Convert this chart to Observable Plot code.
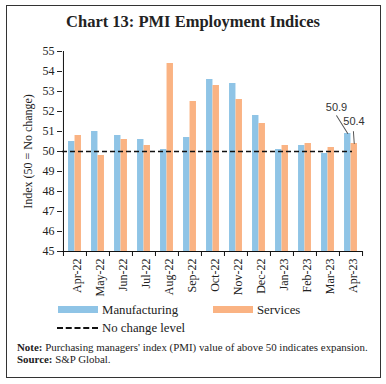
<!DOCTYPE html>
<html><head><meta charset="utf-8">
<script src="https://cdn.jsdelivr.net/npm/d3@7"></script>
<script src="https://cdn.jsdelivr.net/npm/@observablehq/plot@0.6"></script>
<style>
body{margin:0;background:#fff;font-family:"Liberation Serif",serif;color:#222}
#wrap{position:relative;width:386px;height:384px;overflow:hidden;background:#fff}
#frame{position:absolute;left:6px;top:5px;width:375px;height:373px;border:1px solid #333;box-sizing:border-box}
#title{position:absolute;left:0;width:386px;top:12px;text-align:center;font-weight:bold;font-size:16.5px;line-height:20px}
#chart{position:absolute;left:0;top:38px}
.leg{position:absolute;font-size:12.8px;line-height:14px;white-space:nowrap}
.sw{position:absolute;height:7px;width:40px}
.dash{position:absolute;width:41px;height:0;border-top:2px dashed #111}
.note{position:absolute;left:17px;font-size:10.9px;line-height:12px;white-space:nowrap}
</style></head><body>
<div id="wrap">
<div id="frame"></div>
<div id="title"></div>
<div id="chart"></div>
<div id="legend"></div>
<div class="note" id="note" style="top:341px"></div>
<div class="note" id="source" style="top:353px"></div>
</div>
<script>
const titleText = "Chart 13: PMI Employment Indices";
const months = ["Apr-22","May-22","Jun-22","Jul-22","Aug-22","Sep-22","Oct-22","Nov-22","Dec-22","Jan-23","Feb-23","Mar-23","Apr-23"];
const manufacturing = [50.5,51.0,50.8,50.6,50.1,50.7,53.6,53.4,51.8,50.1,50.3,49.9,50.9];
const services = [50.8,49.8,50.6,50.3,54.4,52.5,53.3,52.6,51.4,50.3,50.4,50.2,50.4];
const yTicks = [45,46,47,48,49,50,51,52,53,54,55];
const seriesNames = ["Manufacturing","Services"];
const refLevel = 50;
const refName = "No change level";
const yLabel = "Index (50 = No change)";
const noteText = "Purchasing managers' index (PMI) value of above 50 indicates expansion.";
const sourceText = "S&P Global.";

const colors = ["#8fc4e6","#fab383"];

document.getElementById("title").textContent = titleText;
document.getElementById("note").innerHTML = "<b>Note:</b> " + noteText.replace(/&/g,"&amp;");
document.getElementById("source").innerHTML = "<b>Source:</b> " + sourceText.replace(/&/g,"&amp;");

const dataM = months.map((m,i)=>({month:m, value:manufacturing[i]}));
const dataS = months.map((m,i)=>({month:m, value:services[i]}));
const lastM = [dataM[dataM.length-1]];
const lastS = [dataS[dataS.length-1]];

const half = 300/13/2;
const barW = 6.5;
const lineShape = {draw(ctx, l){ ctx.moveTo(0,0); ctx.lineTo(0,-l); }};

const chart = Plot.plot({
  width: 386, height: 262,
  marginLeft: 62, marginRight: 24, marginTop: 13, marginBottom: 49,
  style: {fontFamily: "Liberation Serif", fontSize: "12px", color: "#222", background: "transparent", overflow: "visible"},
  x: {domain: months, padding: 0, label: null},
  y: {domain: [45, 55], label: null},
  marks: [
    Plot.barY(dataM, {x: "month", y1: 45, y2: "value", fill: colors[0], insetLeft: half - barW, insetRight: half}),
    Plot.barY(dataS, {x: "month", y1: 45, y2: "value", fill: colors[1], insetLeft: half, insetRight: half - barW}),
    Plot.ruleY([refLevel], {stroke: "#111", strokeWidth: 1.7, strokeDasharray: "5,3", insetRight: 10}),
    Plot.axisY({ticks: yTicks, tickSize: 5, tickPadding: 3, label: null, fontSize: 12}),
    Plot.text([yLabel], {text: d => d, frameAnchor: "left", textAnchor: "middle", rotate: -90, dx: -34, fontSize: 12, fill: "#222"}),
    Plot.axisX({tickSize: 0, tickRotate: -90, tickPadding: 7, label: null, fontSize: 12, dx: 2}),
    Plot.ruleX(months, {x: d => d, y1: 45, y2: 45, insetBottom: -5, dx: -half, stroke: "#111"}),
    Plot.ruleX([months[months.length-1]], {x: d => d, y1: 45, y2: 45, insetBottom: -5, dx: half, stroke: "#111"}),
    Plot.ruleX([months[0]], {x: d => d, y1: 45, y2: 55, dx: -half, stroke: "#111"}),
    Plot.ruleY([45], {stroke: "#111"}),
    Plot.vector(lastM, {x: "month", y: "value", dx: -barW/2, length: 21, rotate: -32, anchor: "start", shape: lineShape, r: 0, stroke: "#555", strokeWidth: 1}),
    Plot.vector(lastS, {x: "month", y: "value", dx: barW/2, length: 12, rotate: -4, anchor: "start", shape: lineShape, r: 0, stroke: "#555", strokeWidth: 1}),
    Plot.text(lastM, {x: "month", y: "value", text: d => d.value.toFixed(1), dx: -14.5, dy: -26, fontFamily: "Liberation Sans", fontSize: 11, fill: "#333"}),
    Plot.text(lastS, {x: "month", y: "value", text: d => d.value.toFixed(1), dx: 3, dy: -22, fontFamily: "Liberation Sans", fontSize: 11, fill: "#333"})
  ]
});
document.getElementById("chart").appendChild(chart);

const legend = document.getElementById("legend");
const legPos = [[58, 303], [213, 303]];
seriesNames.forEach((name, i) => {
  const sw = document.createElement("div");
  sw.className = "sw";
  sw.style.left = legPos[i][0] + "px";
  sw.style.top = (legPos[i][1] + 3) + "px";
  sw.style.background = colors[i];
  legend.appendChild(sw);
  const t = document.createElement("div");
  t.className = "leg";
  t.style.left = (legPos[i][0] + 44) + "px";
  t.style.top = legPos[i][1] + "px";
  t.textContent = name;
  legend.appendChild(t);
});
const d = document.createElement("div");
d.className = "dash";
d.style.left = "57px"; d.style.top = "327px";
legend.appendChild(d);
const dt = document.createElement("div");
dt.className = "leg";
dt.style.left = "102px"; dt.style.top = "321px";
dt.textContent = refName;
legend.appendChild(dt);
</script>
</body></html>
